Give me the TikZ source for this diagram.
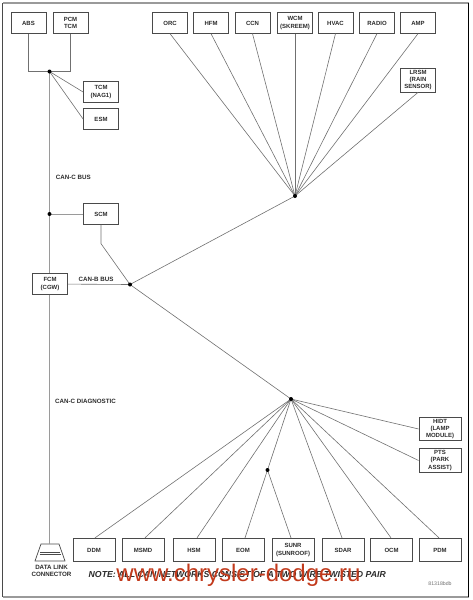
\documentclass[tikz,border=0pt]{standalone}
\usepackage{fontspec}
\setmainfont{Liberation Sans}
\usepackage{xcolor}
\usetikzlibrary{calc}
\definecolor{wire}{HTML}{707070}
\definecolor{bus}{HTML}{9A9A9A}
\definecolor{edge}{HTML}{4A4A4A}
\definecolor{ink}{HTML}{2B2B2B}
\definecolor{stamp}{HTML}{C23A1C}
\tikzset{
  module/.style={draw=edge,line width=.8pt,fill=white,align=center,inner sep=0pt,text=ink,
    font=\bfseries\fontsize{6}{7.2}\selectfont,minimum width=35pt,minimum height=20.5pt},
  wide/.style={module,minimum width=42pt,minimum height=23.5pt},
  junction/.style={circle,fill=black,inner sep=0pt,minimum size=4pt},
  wirl/.style={draw=wire,line width=.6pt},
  busl/.style={draw=bus,line width=.9pt},
  lbl/.style={text=ink,inner sep=0pt,font=\bfseries\fontsize{6.2}{7}\selectfont,align=center}
}
\begin{document}
\begin{tikzpicture}[x=1pt,y=-1pt]
  \useasboundingbox (0,0) rectangle (473,600);
  % sheet border
  \draw[bus,line width=1.4pt] (2.5,3) -- (468.5,3);
  \draw[bus,line width=1.4pt] (2.5,597) -- (468.5,597);
  \draw[edge,line width=1pt] (2.5,3) -- (2.5,597);
  \draw[black,line width=.6pt] (468.5,3) -- (468.5,597);
  % connectors first, hubs and boxes go on top
  \coordinate (hubc) at (49.5,71.5);
  \coordinate (hubscm) at (49.5,214);
  \coordinate (hubb) at (130,284.5);
  \coordinate (hubtop) at (295,196);
  \coordinate (hublow) at (291,399);
  \coordinate (hubsunr) at (267.5,470);
  \coordinate (dlctop) at (49.5,544);
  % top row
  \foreach \name/\x/\txt in {abs/28.5/ABS,pcm/70.5/{PCM\\TCM},orc/170/ORC,hfm/211/HFM,ccn/252.5/CCN,
      wcm/295/{WCM\\(SKREEM)},hvac/335.5/HVAC,radio/377/RADIO,amp/418/AMP}
    \node[module] (\name) at (\x,23) {\txt};
  \node[module,minimum height=24pt] (lrsm) at (418,80) {LRSM\\(RAIN\\SENSOR)};
  \node[module] (tcm) at (101,92) {TCM\\(NAG1)};
  \node[module] (esm) at (101,119) {ESM};
  \node[module] (scm) at (101,214) {SCM};
  \node[module] (fcm) at (50,284) {FCM\\(CGW)};
  % bottom row
  \foreach \name/\x/\txt in {ddm/94/DDM,msmd/143/MSMD,hsm/194/HSM,eom/243/EOM,sunr/293/{SUNR\\(SUNROOF)},
      sdar/343/SDAR,ocm/391.5/OCM,pdm/440/PDM}
    \node[wide] (\name) at (\x,550) {\txt};
  \node[wide] (hidt) at (440,429) {HIDT\\(LAMP\\MODULE)};
  \node[wide] (pts) at (440,460.5) {PTS\\(PARK\\ASSIST)};
  % data link connector
  \draw[edge,line width=.7pt] (41,544) -- (59,544) -- (65,561) -- (35,561) -- cycle;
  \draw[edge,line width=.5pt] (40,552) -- (60,552) (39.5,554.5) -- (60.5,554.5);
  % CAN-C bus
  \draw[busl] (hubc) -- (hubc |- fcm.north);
  \draw[busl] (hubc |- fcm.south) -- (dlctop);
  \draw[busl] (hubscm) -- (scm);
  \draw[wirl] (abs) |- (hubc);
  \draw[wirl] (pcm) |- (hubc);
  \draw[wirl] (hubc) -- (tcm.west);
  \draw[wirl] (hubc) -- (esm.west);
  % CAN-B bus
  \draw[wirl] (fcm) -- (hubb);
  \draw[wirl] (scm.south) -- ++(0,19) -- (hubb);
  \draw[wirl] (hubb) -- (hubtop);
  \draw[wirl] (hubb) -- (hublow);
  \foreach \name in {orc,hfm,ccn,wcm,hvac,radio,amp,lrsm}
    \draw[wirl] (\name.south) -- (hubtop);
  \foreach \name/\dx in {ddm/1,msmd/2,hsm/3,sdar/-1,ocm/-.5,pdm/-1}
    \draw[wirl] ([xshift=\dx]\name.north) -- (hublow);
  \draw[wirl] (hubsunr) -- (hublow);
  \draw[wirl] ([xshift=2]eom.north) -- (hubsunr);
  \draw[wirl] ([xshift=-2]sunr.north) -- (hubsunr);
  \draw[wirl] (hidt.west) -- (hublow);
  \draw[wirl] (pts.west) -- (hublow);
  % junction dots
  \foreach \name in {hubc,hubscm,hubb,hubtop,hublow,hubsunr}
    \node[junction] (\name dot) at (\name) {};
  % labels
  \node[lbl,anchor=west] (canc) at (55.7,177.5) {CAN-C BUS};
  \node[lbl,anchor=west] (canb) at (78.5,279) {CAN-B BUS};
  \node[lbl,anchor=west] (candiag) at (55,401) {CAN-C DIAGNOSTIC};
  \node[lbl] (dlcname) at (51.5,571) {DATA LINK\\CONNECTOR};
  \node[text=ink,anchor=west,inner sep=0pt,font=\bfseries\itshape\fontsize{8.7}{10}\selectfont] (note) at (88.5,574.5)
    {NOTE: ALL CAN NETWORKS CONSIST OF A TWO WIRE TWISTED PAIR};
  \node[text=stamp,inner sep=0pt,font=\fontsize{24}{26}\selectfont] (stampname) at (238.5,575) {www.chrysler-dodge.ru};
  \node[text=wire,inner sep=0pt,font=\fontsize{5.2}{6}\selectfont] (fig) at (440,584) {81318bdb};
\end{tikzpicture}
\end{document}
